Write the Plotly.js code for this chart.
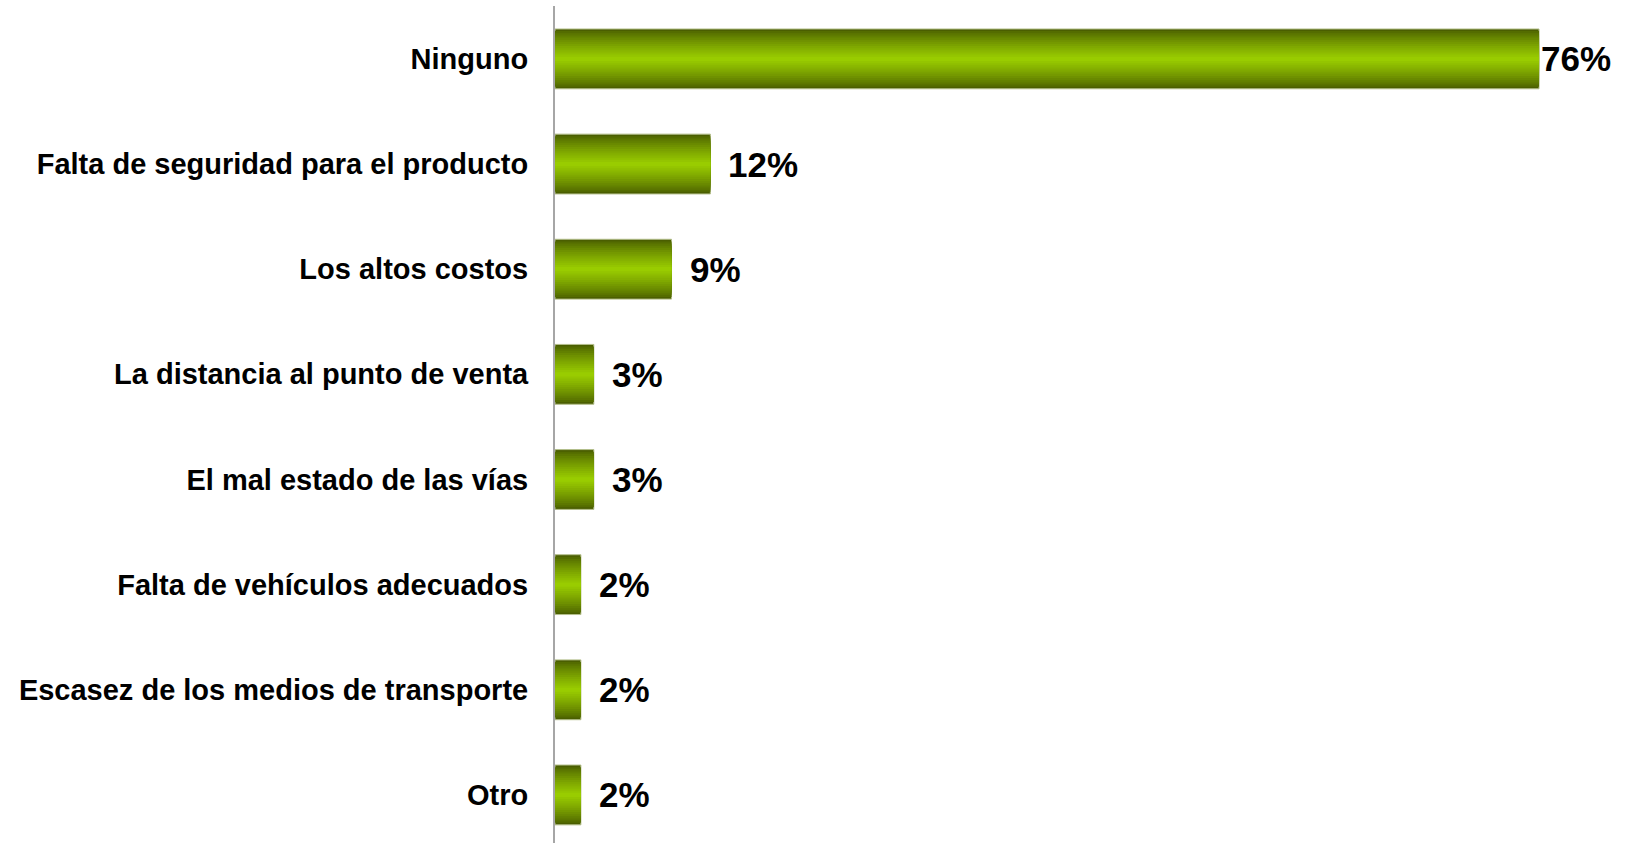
<!DOCTYPE html>
<html>
<head>
<meta charset="utf-8">
<script src="https://cdn.plot.ly/plotly-3.0.1.min.js"></script>
<style>html,body{margin:0;padding:0;background:#fff;}#chart{width:1627px;height:846px;}</style>
</head>
<body>
<div id="chart"></div>
<script>
const categories = [
  "Ninguno",
  "Falta de seguridad para el producto",
  "Los altos costos",
  "La distancia al punto de venta",
  "El mal estado de las vías",
  "Falta de vehículos adecuados",
  "Escasez de los medios de transporte",
  "Otro"
];
const values = [76, 12, 9, 3, 3, 2, 2, 2];
const valueLabels = ["76%", "12%", "9%", "3%", "3%", "2%", "2%", "2%"];

const FONT = '"Liberation Sans", Arial, sans-serif';
const darkC = [74, 94, 0];
const brightC = [153, 204, 0];
const N = 14;
const fullWidth = 0.569;
const traces = [];
for (let i = 0; i < N; i++) {
  const t = i / (N - 1);
  const e = Math.pow(t, 0.8);
  const c = darkC.map((d, k) => Math.round(d + (brightC[k] - d) * e));
  const w = fullWidth * (1 - i / N);
  traces.push({
    type: 'bar',
    orientation: 'h',
    x: values,
    y: categories,
    width: w,
    marker: {
      color: 'rgb(' + c.join(',') + ')',
      line: i === 0 ? {color: '#b4bf8c', width: 1} : {width: 0}
    },
    hoverinfo: 'skip',
    showlegend: false
  });
}

const maxVal = Math.max(...values);
const annotations = values.map((v, i) => ({
  x: v,
  y: categories[i],
  xref: 'x',
  yref: 'y',
  text: valueLabels[i],
  showarrow: false,
  xanchor: 'left',
  yanchor: 'middle',
  xshift: v === maxVal ? 0 : 16,
  font: {family: FONT, size: 35, color: '#000', weight: 'bold'}
}));

const layout = {
  width: 1627,
  height: 846,
  margin: {l: 555, r: 9, t: 6, b: 3},
  paper_bgcolor: '#fff',
  plot_bgcolor: '#fff',
  barmode: 'overlay',
  showlegend: false,
  xaxis: {
    range: [0, 82.1],
    showgrid: false,
    zeroline: false,
    showline: false,
    showticklabels: false,
    ticks: ''
  },
  yaxis: {
    type: 'category',
    categoryorder: 'array',
    categoryarray: categories,
    range: [7.457, -0.503],
    showgrid: false,
    zeroline: false,
    showline: true,
    linecolor: '#a6a6a6',
    linewidth: 2,
    ticks: '',
    ticklabelstandoff: 19,
    tickfont: {family: FONT, size: 29, color: '#000', weight: 'bold'}
  },
  annotations: annotations
};

Plotly.newPlot('chart', traces, layout, {displayModeBar: false, staticPlot: true});
</script>
</body>
</html>
